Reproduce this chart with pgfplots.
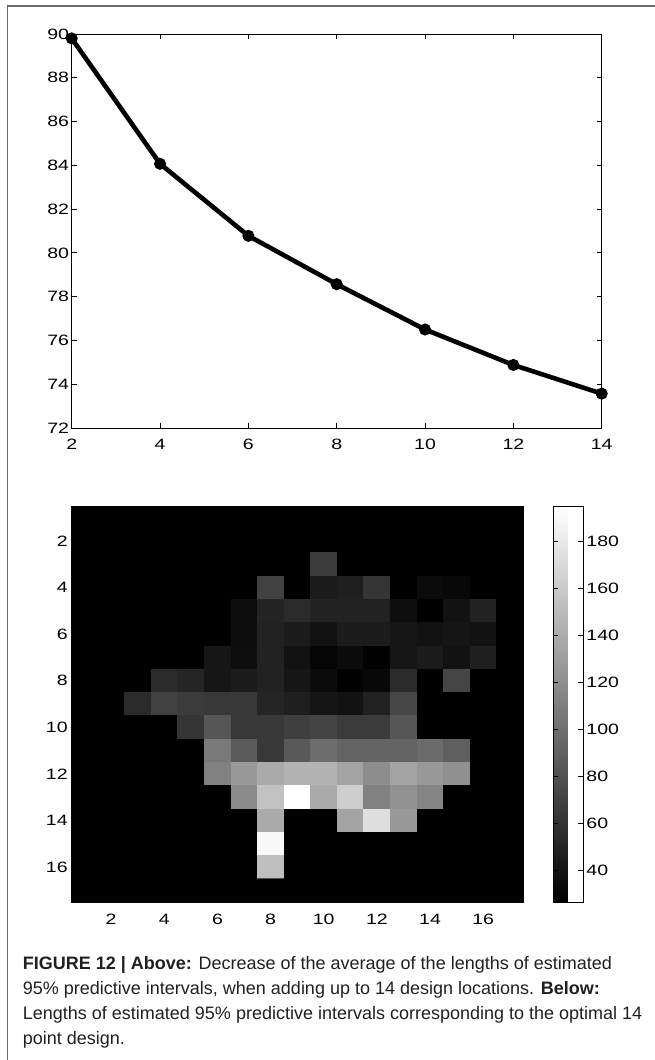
\documentclass[border=0pt]{standalone}
\usepackage{pgfplots}
\pgfplotsset{compat=1.18}
\usepackage{fontspec}
\setmainfont{Liberation Sans}
\newfontfamily\tickfont[FakeStretch=1.3]{Liberation Sans}
\definecolor{framegray}{RGB}{110,110,110}
\definecolor{captext}{RGB}{35,31,32}
\begin{document}
\begin{tikzpicture}[x=1bp,y=1bp]
\path[use as bounding box] (0,0) rectangle (655,-1060);
\draw[framegray, line width=1.3bp] (7.3,-1060) -- (7.3,-6) -- (655,-6);
% ---------- top line chart ----------
\begin{axis}[
  at={(71.7bp,-428bp)}, anchor=south west,
  scale only axis, width=530bp, height=394bp,
  xmin=2, xmax=14, ymin=72, ymax=90,
  xtick={2,4,...,14}, ytick={72,74,...,90},
  tick align=inside, tick pos=both,
  xticklabel pos=lower, yticklabel pos=left,
  major tick length=5bp,
  axis line style={line width=0.8bp},
  every tick/.style={black, line width=0.8bp},
  /pgf/number format/assume math mode=true,
  ticklabel style={font=\tickfont\fontsize{15bp}{15bp}\selectfont, inner sep=0pt},
  xticklabel style={yshift=-11bp},
  yticklabel style={xshift=-2.5bp},
  clip=false,
]
\addplot[black, line width=4.6bp, mark=*, mark size=3.6bp, mark options={solid}] coordinates {
 (2,89.8) (4,84.07) (6,80.78) (8,78.57) (10,76.5) (12,74.88) (14,73.57)
};
\end{axis}
% ---------- heatmap ----------
\begin{axis}[
  at={(71.3bp,-902bp)}, anchor=south west,
  scale only axis, width=451.7bp, height=396bp,
  xmin=0.5, xmax=17.5, ymin=0.5, ymax=17.5,
  y dir=reverse, enlargelimits=false,
  axis background/.style={fill=black},
  xtick={2,4,...,16}, ytick={2,4,...,16},
  tick align=inside, tick pos=both,
  xticklabel pos=lower, yticklabel pos=left,
  major tick length=0pt,
  axis line style={line width=0.8bp},
  /pgf/number format/assume math mode=true,
  ticklabel style={font=\tickfont\fontsize{15bp}{15bp}\selectfont, inner sep=0pt},
  xticklabel style={yshift=-12bp},
  yticklabel style={xshift=-3.5bp},
  colormap/blackwhite,
  point meta min=26.5, point meta max=195,
  colorbar,
  colorbar style={
    at={(parent axis.north east)}, anchor=north west, xshift=21.7bp,
    scale only axis, width=30bp, height=396bp,
    ytick={40,60,...,180},
    tick align=inside, ytick pos=both, yticklabel pos=right,
    major tick length=5bp,
    axis line style={line width=0.8bp},
    every tick/.style={black, line width=0.6bp},
    /pgf/number format/assume math mode=true,
    yticklabel style={font=\tickfont\fontsize{15bp}{15bp}\selectfont, inner sep=0pt, xshift=3bp},
  },
]
\addplot[matrix plot*, mesh/cols=17, point meta=explicit] coordinates {
(1,1)[26.5] (2,1)[26.5] (3,1)[26.5] (4,1)[26.5] (5,1)[26.5] (6,1)[26.5] (7,1)[26.5] (8,1)[26.5] (9,1)[26.5] (10,1)[26.5] (11,1)[26.5] (12,1)[26.5] (13,1)[26.5] (14,1)[26.5] (15,1)[26.5] (16,1)[26.5] (17,1)[26.5]
(1,2)[26.5] (2,2)[26.5] (3,2)[26.5] (4,2)[26.5] (5,2)[26.5] (6,2)[26.5] (7,2)[26.5] (8,2)[26.5] (9,2)[26.5] (10,2)[26.5] (11,2)[26.5] (12,2)[26.5] (13,2)[26.5] (14,2)[26.5] (15,2)[26.5] (16,2)[26.5] (17,2)[26.5]
(1,3)[26.5] (2,3)[26.5] (3,3)[26.5] (4,3)[26.5] (5,3)[26.5] (6,3)[26.5] (7,3)[26.5] (8,3)[26.5] (9,3)[26.5] (10,3)[65] (11,3)[26.5] (12,3)[26.5] (13,3)[26.5] (14,3)[26.5] (15,3)[26.5] (16,3)[26.5] (17,3)[26.5]
(1,4)[26.5] (2,4)[26.5] (3,4)[26.5] (4,4)[26.5] (5,4)[26.5] (6,4)[26.5] (7,4)[26.5] (8,4)[69] (9,4)[26.5] (10,4)[45] (11,4)[47] (12,4)[61] (13,4)[26.5] (14,4)[34] (15,4)[32] (16,4)[26.5] (17,4)[26.5]
(1,5)[26.5] (2,5)[26.5] (3,5)[26.5] (4,5)[26.5] (5,5)[26.5] (6,5)[26.5] (7,5)[35] (8,5)[50] (9,5)[55] (10,5)[49] (11,5)[49] (12,5)[49] (13,5)[36] (14,5)[26.5] (15,5)[38] (16,5)[49] (17,5)[26.5]
(1,6)[26.5] (2,6)[26.5] (3,6)[26.5] (4,6)[26.5] (5,6)[26.5] (6,6)[26.5] (7,6)[35] (8,6)[49] (9,6)[45] (10,6)[38] (11,6)[45] (12,6)[45] (13,6)[41] (14,6)[38] (15,6)[40] (16,6)[38] (17,6)[26.5]
(1,7)[26.5] (2,7)[26.5] (3,7)[26.5] (4,7)[26.5] (5,7)[26.5] (6,7)[41] (7,7)[36] (8,7)[49] (9,7)[38] (10,7)[30] (11,7)[34] (12,7)[28] (13,7)[41] (14,7)[44] (15,7)[38] (16,7)[47] (17,7)[26.5]
(1,8)[26.5] (2,8)[26.5] (3,8)[26.5] (4,8)[55] (5,8)[51] (6,8)[41] (7,8)[45] (8,8)[49] (9,8)[41] (10,8)[34] (11,8)[28] (12,8)[32] (13,8)[55] (14,8)[26.5] (15,8)[72] (16,8)[26.5] (17,8)[26.5]
(1,9)[26.5] (2,9)[26.5] (3,9)[55] (4,9)[69] (5,9)[65] (6,9)[63] (7,9)[63] (8,9)[51] (9,9)[47] (10,9)[40] (11,9)[38] (12,9)[48] (13,9)[73] (14,9)[26.5] (15,9)[26.5] (16,9)[26.5] (17,9)[26.5]
(1,10)[26.5] (2,10)[26.5] (3,10)[26.5] (4,10)[26.5] (5,10)[61] (6,10)[83] (7,10)[63] (8,10)[63] (9,10)[68] (10,10)[71] (11,10)[65] (12,10)[65] (13,10)[83] (14,10)[26.5] (15,10)[26.5] (16,10)[26.5] (17,10)[26.5]
(1,11)[26.5] (2,11)[26.5] (3,11)[26.5] (4,11)[26.5] (5,11)[26.5] (6,11)[106] (7,11)[86] (8,11)[63] (9,11)[85] (10,11)[98] (11,11)[92] (12,11)[92] (13,11)[92] (14,11)[97] (15,11)[89] (16,11)[26.5] (17,11)[26.5]
(1,12)[26.5] (2,12)[26.5] (3,12)[26.5] (4,12)[26.5] (5,12)[26.5] (6,12)[111] (7,12)[127] (8,12)[138] (9,12)[144] (10,12)[144] (11,12)[134] (12,12)[119] (13,12)[134] (14,12)[127] (15,12)[121] (16,12)[26.5] (17,12)[26.5]
(1,13)[26.5] (2,13)[26.5] (3,13)[26.5] (4,13)[26.5] (5,13)[26.5] (6,13)[26.5] (7,13)[118] (8,13)[154] (9,13)[195] (10,13)[138] (11,13)[161] (12,13)[111] (13,13)[122] (14,13)[114] (15,13)[26.5] (16,13)[26.5] (17,13)[26.5]
(1,14)[26.5] (2,14)[26.5] (3,14)[26.5] (4,14)[26.5] (5,14)[26.5] (6,14)[26.5] (7,14)[26.5] (8,14)[138] (9,14)[26.5] (10,14)[26.5] (11,14)[134] (12,14)[172] (13,14)[127] (14,14)[26.5] (15,14)[26.5] (16,14)[26.5] (17,14)[26.5]
(1,15)[26.5] (2,15)[26.5] (3,15)[26.5] (4,15)[26.5] (5,15)[26.5] (6,15)[26.5] (7,15)[26.5] (8,15)[190] (9,15)[26.5] (10,15)[26.5] (11,15)[26.5] (12,15)[26.5] (13,15)[26.5] (14,15)[26.5] (15,15)[26.5] (16,15)[26.5] (17,15)[26.5]
(1,16)[26.5] (2,16)[26.5] (3,16)[26.5] (4,16)[26.5] (5,16)[26.5] (6,16)[26.5] (7,16)[26.5] (8,16)[151] (9,16)[26.5] (10,16)[26.5] (11,16)[26.5] (12,16)[26.5] (13,16)[26.5] (14,16)[26.5] (15,16)[26.5] (16,16)[26.5] (17,16)[26.5]
(1,17)[26.5] (2,17)[26.5] (3,17)[26.5] (4,17)[26.5] (5,17)[26.5] (6,17)[26.5] (7,17)[26.5] (8,17)[26.5] (9,17)[26.5] (10,17)[26.5] (11,17)[26.5] (12,17)[26.5] (13,17)[26.5] (14,17)[26.5] (15,17)[26.5] (16,17)[26.5] (17,17)[26.5]
};
\end{axis}
% ---------- caption ----------
\begin{scope}[every node/.style={anchor=base west, inner sep=0pt, text=captext, font=\fontsize{18bp}{25bp}\selectfont}]
\node at (22.7,-969.3) {\textbf{FIGURE 12 | Above:} Decrease of the average of the lengths of estimated};
\node at (22.7,-994.5) {95\% predictive intervals, when adding up to 14 design locations. \textbf{Below:}};
\node at (22.7,-1019.7) {Lengths of estimated 95\% predictive intervals corresponding to the optimal 14};
\node at (22.7,-1044.9) {point design.};
\end{scope}
\end{tikzpicture}
\end{document}
